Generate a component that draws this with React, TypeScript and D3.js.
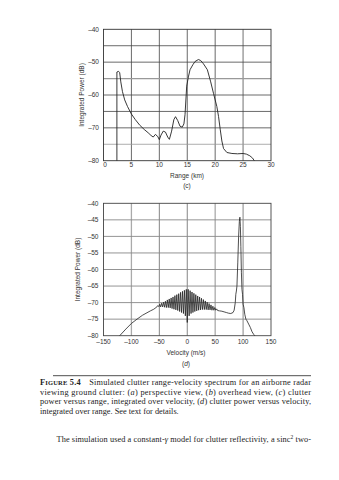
import React from "react";
import * as d3 from "d3";

// ---- Data: (c) clutter power versus range ----
const rangeKm = [2.4, 2.4, 2.7, 2.9, 3.1, 3.4, 3.8, 4.3, 5, 5.7, 6.5, 7.3, 8, 8.5, 8.9, 9.3, 9.7, 10, 10.3, 10.7, 11.1, 11.5, 11.8, 12.2, 12.6, 12.9, 13.3, 13.7, 14.1, 14.4, 14.6, 14.9, 15.2, 15.5, 16, 16.4, 17, 17.4, 17.9, 18.6, 19.2, 19.7, 20.3, 20.6, 20.9, 21.2, 21.5, 22.1, 23, 24, 25, 25.6, 26.2, 26.7, 27];
const rangePower = [-80, -53, -52.8, -53.2, -56, -59, -61.5, -63.5, -65.8, -67.5, -69.2, -70.5, -71.5, -72.3, -72.8, -72, -72.6, -73.6, -72.2, -71, -71.3, -72.8, -73.5, -71, -67.5, -66.6, -67.8, -69.5, -69.8, -68.8, -66, -57.3, -54.5, -52.3, -50.8, -49.8, -49.2, -49.5, -50.5, -52.3, -56, -59.5, -63.5, -66.5, -70.4, -74, -76.3, -77.5, -77.8, -77.9, -77.8, -78, -78.5, -79.2, -80];
const rangeTicks = [0, 5, 10, 15, 20, 25, 30];
const powerTicksC = [-40, -50, -60, -70, -80];
const gridPowerC = [-45, -50, -55, -60, -65, -70, -75];

// ---- Data: (d) clutter power versus velocity ----
const velocity = [
  -121, -110, -100, -90, -80, -66, -60, -56,
  -54.4, -52.7, -51, -49.3, -47.6, -45.9, -44.2, -42.5, -40.8, -39.1, -37.4, -35.7, -34, -32.3, -30.6, -28.9,
  -27.2, -25.5, -23.8, -22.1, -20.4, -18.7, -17, -15.3, -13.6, -11.9, -10.2, -8.5, -6.8, -5.1, -3.4, -1.7,
  0, 1.7, 3.4, 5.1, 6.8, 8.5, 10.2, 11.9, 13.6, 15.3, 17, 18.7, 20.4, 22.1, 23.8, 25.5, 27.2, 28.9, 30.6,
  32.3, 34, 35.7, 37.4, 39.1, 40.8, 42.5, 44.2, 45.9, 47.6, 49.3, 51, 52.7, 54.4,
  58, 62, 66, 70, 74, 78, 82, 84, 86, 87, 88, 89, 90.5, 92, 93.3, 94.3, 95.2, 96, 97, 98, 99, 100, 101.5, 103, 105, 107, 110, 113, 116, 119, 121,
];
const velocityPower = [
  -80, -78, -76.3, -75, -73.8, -72.5, -72, -71.5,
  -71.3, -70.9, -71.2, -70.5, -71.3, -70.2, -71.3, -69.9, -71.4, -69.6, -71.5, -69.2, -71.5, -68.9, -71.6, -68.6,
  -71.8, -68.3, -72, -67.9, -72.2, -67.6, -72.4, -67.3, -72.7, -66.9, -73, -66.6, -73.3, -66.3, -74, -66,
  -76, -66, -74, -66.4, -73.3, -66.8, -73, -67.2, -72.7, -67.6, -72.5, -68, -72.3, -68.3, -72.2, -68.7, -72.1, -69.1, -72.1,
  -69.5, -72.1, -69.9, -72.2, -70.3, -72.2, -70.7, -72.3, -71.1, -72.3, -71.5, -72.3, -71.9, -72.4,
  -72.5, -72.6, -72.8, -73, -73.2, -73.3, -73, -72.3, -70, -67.5, -66.5, -65, -58, -50, -45.5, -44.2, -47, -53, -61, -66, -67.5, -70.5, -71.5, -73.5, -75, -75.5, -76.5, -77.5, -78.8, -79.6, -80,
];
const velocityTicks = [-150, -100, -50, 0, 50, 100, 150];
const powerTicksD = [-40, -45, -50, -55, -60, -65, -70, -75, -80];

const captionLines = [
  "Simulated clutter range-velocity spectrum for an airborne radar",
  "viewing ground clutter: (a) perspective view, (b) overhead view, (c) clutter",
  "power versus range, integrated over velocity, (d) clutter power versus velocity,",
  "integrated over range. See text for details.",
];

const fmt = (v: number) => (v < 0 ? "\u2013" + Math.abs(v) : String(v));
const sans = "'Liberation Sans', Arial, sans-serif";
const serif = "'Liberation Serif', 'Times New Roman', serif";

export default function App() {
  const left = 103.5;
  const right = 271;

  // (c)
  const xc = d3.scaleLinear().domain([0, 30]).range([left, right]);
  const yc = d3.scaleLinear().domain([-80, -40]).range([160.7, 29.3]);
  const lineC = d3.line<number>().x((_, i) => xc(rangeKm[i])).y((d) => yc(d));

  // (d)
  const xd = d3.scaleLinear().domain([-150, 150]).range([left, right]);
  const yd = d3.scaleLinear().domain([-80, -40]).range([335.7, 203.3]);
  const lineD = d3.line<number>().x((_, i) => xd(velocity[i])).y((d) => yd(d));

  return (
    <svg width={339} height={480} style={{ position: "absolute", left: 0, top: 0, background: "#fff" }}>
      {/* ---------- (c) ---------- */}
      <g>
        {rangeTicks.slice(1, -1).map((t) => (
          <line key={"cx" + t} x1={xc(t)} x2={xc(t)} y1={yc(-40)} y2={yc(-80)}
            stroke={t === 25 ? "#999" : "#444"} strokeWidth={t === 25 ? 1.4 : 0.8} />
        ))}
        {gridPowerC.map((t) => (
          <line key={"cy" + t} x1={left} x2={right} y1={yc(t)} y2={yc(t)}
            stroke={t === -55 || t === -75 ? "#999" : "#444"} strokeWidth={t === -55 ? 1.4 : 0.8} />
        ))}
        <rect x={left} y={yc(-40)} width={right - left} height={yc(-80) - yc(-40)} fill="none" stroke="#333" strokeWidth={0.9} />
        <path d={lineC(rangePower) || ""} fill="none" stroke="#222" strokeWidth={0.9} />
        {powerTicksC.map((t) => (
          <text key={"cl" + t} x={99} y={yc(t)} dy="0.35em" textAnchor="end" fontFamily={sans} fontSize={6.5} fill="#333">{fmt(t)}</text>
        ))}
        {rangeTicks.map((t) => (
          <text key={"cxl" + t} x={xc(t) + (t === 0 ? 1.5 : 0)} y={167} textAnchor="middle" fontFamily={sans} fontSize={6.5} fill="#333">{t}</text>
        ))}
        <text x={187} y={178} textAnchor="middle" fontFamily={sans} fontSize={6.5} fill="#333">Range (km)</text>
        <text x={187} y={188} textAnchor="middle" fontFamily={sans} fontSize={6.5} fill="#333">(c)</text>
        <text transform={`translate(84,${(yc(-40) + yc(-80)) / 2}) rotate(-90)`} textAnchor="middle" fontFamily={sans} fontSize={6.5} fill="#333">Integrated Power (dB)</text>
      </g>

      {/* ---------- (d) ---------- */}
      <g>
        {velocityTicks.slice(1, -1).map((t) => (
          <line key={"dx" + t} x1={xd(t)} x2={xd(t)} y1={yd(-40)} y2={yd(-80)}
            stroke={t === -100 || t === 50 ? "#aaa" : "#666"} strokeWidth={t === -100 || t === 50 ? 1.3 : 0.8} />
        ))}
        {powerTicksD.slice(1, -1).map((t) => (
          <line key={"dy" + t} x1={left} x2={right} y1={yd(t)} y2={yd(t)}
            stroke="#888" strokeWidth={0.9} />
        ))}
        <rect x={left} y={yd(-40)} width={right - left} height={yd(-80) - yd(-40)} fill="none" stroke="#444" strokeWidth={0.9} />
        <path d={lineD(velocityPower) || ""} fill="none" stroke="#222" strokeWidth={0.8} />
        {powerTicksD.map((t) => (
          <text key={"dl" + t} x={98.5} y={yd(t)} dy="0.35em" textAnchor="end" fontFamily={sans} fontSize={6.5} fill="#333">{fmt(t)}</text>
        ))}
        {velocityTicks.map((t) => (
          <text key={"dxl" + t} x={xd(t)} y={344} textAnchor="middle" fontFamily={sans} fontSize={6.5} fill="#333">{fmt(t)}</text>
        ))}
        <text x={186} y={355} textAnchor="middle" fontFamily={sans} fontSize={6.5} fill="#333">Velocity (m/s)</text>
        <text x={186} y={366} textAnchor="middle" fontFamily={sans} fontSize={6.5} fill="#333">(<tspan fontStyle="italic">d</tspan>)</text>
        <text transform={`translate(80,${(yd(-40) + yd(-80)) / 2}) rotate(-90)`} textAnchor="middle" fontFamily={sans} fontSize={6.5} fill="#333">Integrated Power (dB)</text>
      </g>

      {/* ---------- caption ---------- */}
      <line x1={53} x2={311} y1={375.7} y2={375.7} stroke="#222" strokeWidth={0.8} />
      <g fontFamily={serif} fontSize={8.3} fill="#222">
        <text x={40} y={385} textLength={271} lengthAdjust="spacing">
          <tspan fontWeight="bold">F</tspan><tspan fontWeight="bold" fontSize={6.5}>IGURE</tspan><tspan fontWeight="bold"> 5.4</tspan>{"\u2003" + captionLines[0]}
        </text>
        <text x={40} y={394.7} textLength={271} lengthAdjust="spacing">
          viewing ground clutter: (<tspan fontStyle="italic">a</tspan>) perspective view, (<tspan fontStyle="italic">b</tspan>) overhead view, (<tspan fontStyle="italic">c</tspan>) clutter
        </text>
        <text x={40} y={404.4} textLength={271} lengthAdjust="spacing">
          power versus range, integrated over velocity, (<tspan fontStyle="italic">d</tspan>) clutter power versus velocity,
        </text>
        <text x={40} y={414}>{captionLines[3]}</text>
        <text x={56.5} y={442} textLength={254.5} lengthAdjust="spacing">
          The simulation used a constant-<tspan fontStyle="italic">γ</tspan> model for clutter reflectivity, a sinc<tspan fontSize={5.5} dy={-3}>2</tspan><tspan dy={3}> two-</tspan>
        </text>
      </g>
    </svg>
  );
}
